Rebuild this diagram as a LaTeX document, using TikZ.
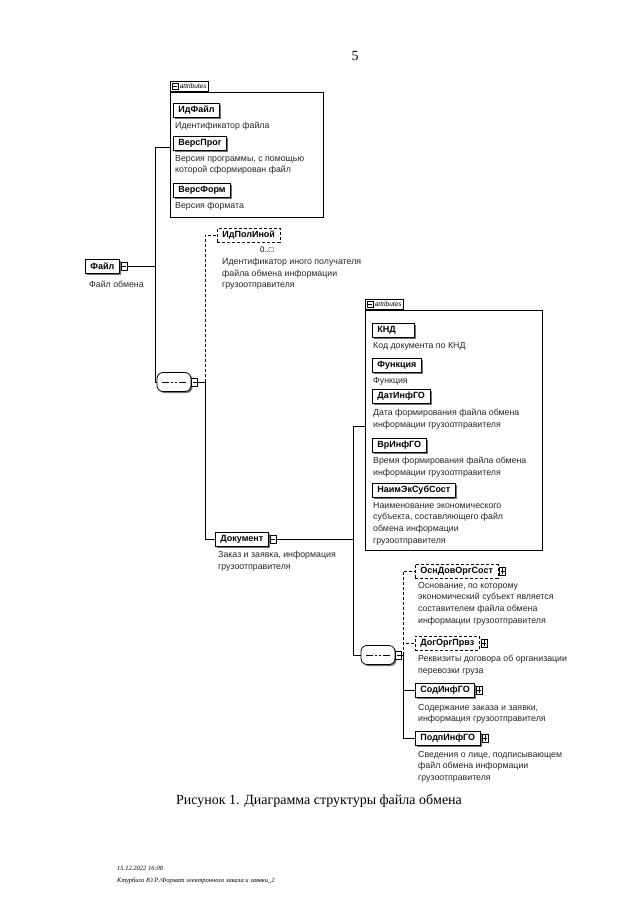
\documentclass[tikz,border=0pt]{standalone}
\usepackage{fontspec}
\setmainfont{Liberation Serif}
\setsansfont{Liberation Sans}
\usetikzlibrary{positioning,shadows}
\tikzset{
  line/.style = {draw, line width=0.7pt},
  optline/.style = {line, densely dashed},
  elembase/.style = {draw, fill=white, line width=0.8pt, anchor=west,
                     inner xsep=5pt, inner ysep=0pt, minimum height=14pt,
                     font=\sffamily\bfseries\fontsize{9}{10}\selectfont},
  elem/.style = {elembase, drop shadow={shadow xshift=1.6pt, shadow yshift=-1.6pt,
                 fill=black!55, opacity=1}},
  optelem/.style = {elembase, densely dashed},
  desc/.style = {anchor=north west, inner sep=0pt, align=left, text=black!85,
                 font=\sffamily\fontsize{8.8}{11.6}\selectfont},
  minusicon/.style = {draw, fill=white, line width=0.6pt, inner sep=0pt,
                      minimum width=6pt, minimum height=8pt,
                      path picture={\draw[line width=0.6pt] ([xshift=1pt]path picture bounding box.west)
                        -- ([xshift=-1pt]path picture bounding box.east);}},
  plusicon/.style = {minusicon,
                     path picture={\draw[line width=0.6pt] ([xshift=1pt]path picture bounding box.west)
                        -- ([xshift=-1pt]path picture bounding box.east);
                       \draw[line width=0.6pt] ([yshift=1pt]path picture bounding box.south)
                        -- ([yshift=-1pt]path picture bounding box.north);}},
  seqbox/.style = {draw, fill=white, line width=0.8pt, rounded corners=6pt, inner sep=0pt,
                   minimum width=34pt, minimum height=19pt,
                   drop shadow={shadow xshift=1.5pt, shadow yshift=-1.5pt, fill=black!55, opacity=1},
                   path picture={\draw[line width=0.6pt] ([xshift=5pt]path picture bounding box.west)
                       -- ([xshift=-5pt]path picture bounding box.east);
                     \foreach \d in {-4,0,4}
                       \fill ([xshift=\d pt]path picture bounding box.center) circle (1.4pt);}},
  attrbox/.style = {draw, line width=0.8pt, anchor=north west, inner sep=0pt},
  attrtab/.style = {draw, fill=white, line width=0.7pt, anchor=south west, inner xsep=1.5pt,
                    inner ysep=1pt, minimum height=10pt,
                    font=\sffamily\itshape\fontsize{6.5}{7}\selectfont}
}

\begin{document}
\begin{tikzpicture}[x=1pt, y=-1pt]
	\useasboundingbox (0,0) rectangle (640,905);
	\def\busA{155}
	\def\busB{205}
	\def\busC{353}
	\def\busD{403}

	% Page number
	\node[font=\fontsize{14}{16}\selectfont] (pagenum) at (355,56) {5};

	% Attributes of Файл
	\node[attrbox, minimum width=153pt, minimum height=125pt] (attrA) at (170,92) {};
	\node[attrtab] (tabA) at (attrA.north west) {\hspace*{8pt}attributes};
	\node[minusicon, minimum height=6pt, right=1.5pt of tabA.west] (tabA-i) {};
	\coordinate (attrA-in) at (170,147);

	\node[elem] (idfajl) at (173,110.5) {ИдФайл};
	\node[desc] (idfajl-d) at (175,122) {Идентификатор файла};
	\node[elem] (versprog) at (173,143) {ВерсПрог};
	\node[desc] (versprog-d) at (175,155) {Версия программы, с помощью\\которой сформирован файл};
	\node[elem] (versform) at (173,190) {ВерсФорм};
	\node[desc] (versform-d) at (175,202) {Версия формата};

	% Файл
	\node[elem] (fajl) at (85,266) {Файл};
	\node[minusicon, right=1pt of fajl] (fajl-i) {};
	\node[desc] (fajl-d) at (89,281) {Файл обмена};

	\node[seqbox] (seqA) at (174,382) {};
	\node[minusicon, right=0pt of seqA] (seqA-i) {};

	% ИдПолИной
	\node[optelem] (idpol) at (217,235) {ИдПолИной};
	\node[inner sep=0pt, anchor=north east, font=\sffamily\fontsize{8}{9}\selectfont] (idpol-m) at (274,247) {0..□};
	\node[desc] (idpol-d) at (222,258) {Идентификатор иного получателя\\файла обмена информации\\грузоотправителя};

	% Документ
	\node[elem] (doc) at (215,539) {Документ};
	\node[minusicon, right=1pt of doc] (doc-i) {};
	\node[desc] (doc-d) at (218,551) {Заказ и заявка, информация\\грузоотправителя};

	% Attributes of Документ
	\node[attrbox, minimum width=177pt, minimum height=240pt] (attrB) at (365,310) {};
	\node[attrtab] (tabB) at (attrB.north west) {\hspace*{8pt}attributes};
	\node[minusicon, minimum height=6pt, right=1.5pt of tabB.west] (tabB-i) {};
	\coordinate (attrB-in) at (365,426);

	\node[elem] (knd) at (372,330) {КНД\hspace*{14pt}};
	\node[desc] (knd-d) at (373,342) {Код документа по КНД};
	\node[elem] (func) at (372,365) {Функция};
	\node[desc] (func-d) at (373,377) {Функция};
	\node[elem] (datinf) at (372,396) {ДатИнфГО};
	\node[desc] (datinf-d) at (373,409) {Дата формирования файла обмена\\информации грузоотправителя};
	\node[elem] (vrinf) at (372,445) {ВрИнфГО};
	\node[desc] (vrinf-d) at (373,457) {Время формирования файла обмена\\информации грузоотправителя};
	\node[elem] (naim) at (372,490) {НаимЭкСубСост};
	\node[desc] (naim-d) at (373,502) {Наименование экономического\\субъекта, составляющего файл\\обмена информации\\грузоотправителя};

	\node[seqbox] (seqB) at (378,655) {};
	\node[minusicon, right=0pt of seqB] (seqB-i) {};

	% Children of Документ
	\node[optelem] (osn) at (415,571) {ОснДовОргСост};
	\node[plusicon, right=1pt of osn] (osn-i) {};
	\node[desc] (osn-d) at (418,582) {Основание, по которому\\экономический субъект является\\составителем файла обмена\\информации грузоотправителя};
	\node[optelem] (dog) at (415,643) {ДогОргПрвз};
	\node[plusicon, right=1pt of dog] (dog-i) {};
	\node[desc] (dog-d) at (418,655) {Реквизиты договора об организации\\перевозки груза};
	\node[elem] (sod) at (415,690) {СодИнфГО};
	\node[plusicon, right=1pt of sod] (sod-i) {};
	\node[desc] (sod-d) at (418,704) {Содержание заказа и заявки,\\информация грузоотправителя};
	\node[elem] (podp) at (415,738) {ПодпИнфГО};
	\node[plusicon, right=1pt of podp] (podp-i) {};
	\node[desc] (podp-d) at (418,751) {Сведения о лице, подписывающем\\файл обмена информации\\грузоотправителя};

	% Connectors
	\coordinate (jA) at (\busA,266);
	\draw[line] (fajl-i.east) -- (jA) |- (attrA-in);
	\draw[line] (jA) |- (seqA.west);

	\coordinate (jB) at (\busB,382);
	\draw[line] (seqA-i.east) -- (jB);
	\draw[optline] (jB) |- (idpol.west);
	\draw[line] (jB) |- (doc.west);

	\coordinate (jC) at (\busC,539);
	\draw[line] (doc-i.east) -- (jC) |- (attrB-in);
	\draw[line] (jC) |- (seqB.west);

	\coordinate (jD) at (\busD,655);
	\draw[line] (seqB-i.east) -- (jD);
	\draw[optline] (jD) |- (osn.west);
	\draw[optline] (jD) |- (dog.west);
	\draw[line] (jD) |- (sod.west);
	\draw[line] (jD) |- (podp.west);

	% Caption and footer
	\node[font=\fontsize{14}{16}\selectfont] (caption) at (319,801) {Рисунок 1. Диаграмма структуры файла обмена};
	\node[anchor=west, inner sep=0pt, align=left, font=\itshape\fontsize{6.5}{12}\selectfont] (footer) at (117,875)
		{15.12.2022 16:08\\Ктурбиго Ю.Р./Формат электронного заказа и заявки\_2};
\end{tikzpicture}
\end{document}
